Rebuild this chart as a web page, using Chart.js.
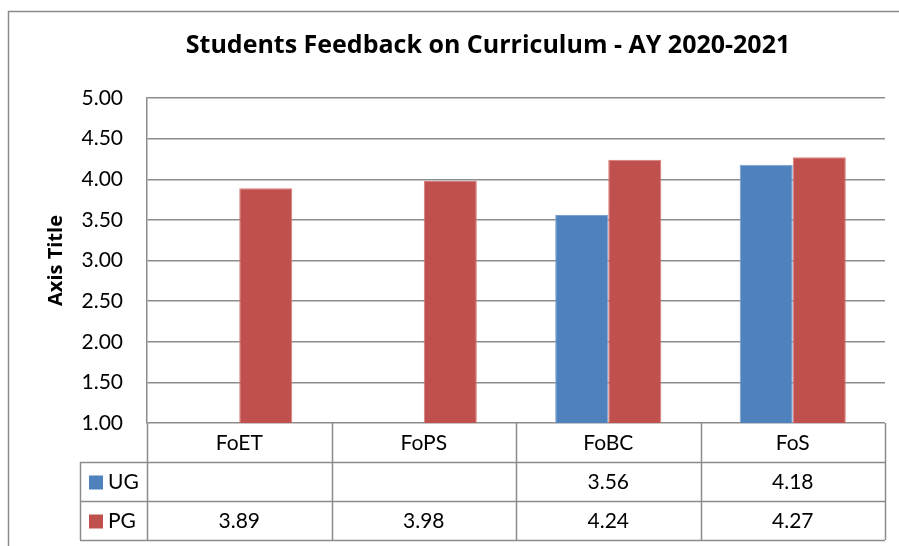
<!DOCTYPE html>
<html>
<head>
<meta charset="utf-8">
<title>Students Feedback on Curriculum</title>
<script src="https://cdn.jsdelivr.net/npm/chart.js@4"></script>
<style>
  html, body { margin: 0; padding: 0; background: #fff; }
  #wrap { width: 899px; height: 546px; position: relative; }
</style>
</head>
<body>
<div id="wrap"><canvas id="feedbackChart" width="899" height="546"></canvas></div>
<script>
const categories = ["FoET", "FoPS", "FoBC", "FoS"];
const ugScores = [null, null, 3.56, 4.18];
const pgScores = [3.89, 3.98, 4.24, 4.27];
const seriesNames = ["UG", "PG"];
const chartTitle = "Students Feedback on Curriculum - AY 2020-2021";
const yAxisTitle = "Axis Title";

const BLUE = "#4f81bd";
const RED = "#c0504d";
const GRID = "#8c8c8c";
const FONT = "Lato, 'Liberation Sans', sans-serif";
const BOLD_FONT = "'Open Sans', 'Liberation Sans', sans-serif";

// table below the plot (Excel style data table) + outer frame + title
const dataTablePlugin = {
  id: "dataTable",
  beforeDraw(chart) {
    const c = chart.ctx;
    c.save();
    c.fillStyle = "#fff";
    c.fillRect(0, 0, chart.width, chart.height);
    c.strokeStyle = "#8a8a8a";
    c.lineWidth = 1.5;
    c.strokeRect(8.5, 11.5, chart.width + 20, chart.height + 20);
    c.restore();
  },
  afterDraw(chart) {
    const c = chart.ctx;
    const area = chart.chartArea;
    const x = chart.scales.x;
    const colW = (area.right - area.left) / categories.length;
    const rowH = 39;
    const top = area.bottom;
    const tableLeft = 80;

    c.save();
    // title
    c.fillStyle = "#000";
    c.font = "bold 25px " + BOLD_FONT;
    c.textAlign = "center";
    c.textBaseline = "middle";
    c.fillText(chartTitle, 488, 46);

    // grid lines of the table
    c.strokeStyle = GRID;
    c.lineWidth = 1.5;
    c.beginPath();
    for (let i = 0; i <= categories.length; i++) {
      const lx = Math.round(area.left + i * colW) + 0.5;
      c.moveTo(lx, top);
      c.lineTo(lx, top + rowH * 3);
    }
    for (let r = 1; r <= 3; r++) {
      const ly = Math.round(top + r * rowH) + 0.5;
      c.moveTo(tableLeft, ly);
      c.lineTo(area.right, ly);
    }
    c.moveTo(tableLeft + 0.5, top + rowH);
    c.lineTo(tableLeft + 0.5, top + rowH * 3);
    c.stroke();

    c.font = "21px " + FONT;
    c.fillStyle = "#000";
    c.textAlign = "center";
    categories.forEach((cat, i) => {
      const cx = x.getPixelForValue(i);
      c.fillText(cat, cx, top + rowH / 2 + 1);
    });

    const rows = [ugScores, pgScores];
    const colors = [BLUE, RED];
    rows.forEach((vals, r) => {
      const cy = top + rowH * (r + 1) + rowH / 2 + 1;
      c.fillStyle = colors[r];
      c.fillRect(89, cy - 7, 14, 14);
      c.fillStyle = "#000";
      c.textAlign = "left";
      c.fillText(seriesNames[r], 108, cy);
      c.textAlign = "center";
      vals.forEach((v, i) => {
        if (v == null) return;
        c.fillText(v.toFixed(2), x.getPixelForValue(i), cy);
      });
    });
    c.restore();
  }
};

const ctx = document.getElementById("feedbackChart").getContext("2d");
new Chart(ctx, {
  type: "bar",
  data: {
    labels: categories,
    datasets: [
      { label: seriesNames[0], data: ugScores, backgroundColor: BLUE, borderColor: "#7a9fd0", borderWidth: 1 },
      { label: seriesNames[1], data: pgScores, backgroundColor: RED, borderColor: "#d87a77", borderWidth: 1 }
    ]
  },
  options: {
    responsive: false,
    animation: false,
    layout: { padding: { left: 0, top: 98, right: 14, bottom: 123 } },
    datasets: { bar: { categoryPercentage: 0.575, barPercentage: 1 } },
    plugins: {
      legend: { display: false },
      title: { display: false },
      tooltip: { enabled: false }
    },
    scales: {
      x: { display: false, offset: true },
      y: {
        min: 1,
        max: 5,
        afterFit(scale) { scale.width = 147; },
        ticks: {
          stepSize: 0.5,
          padding: 24,
          color: "#000",
          font: { family: FONT, size: 21 },
          callback: v => Number(v).toFixed(2)
        },
        grid: { color: GRID, lineWidth: 1.5, drawTicks: false },
        border: { display: true, color: GRID, width: 1.5 },
        title: {
          display: true,
          text: yAxisTitle,
          color: "#000",
          font: { family: BOLD_FONT, size: 20, weight: "bold" },
          padding: { top: 44, bottom: 0 }
        }
      }
    }
  },
  plugins: [dataTablePlugin]
});
</script>
</body>
</html>
